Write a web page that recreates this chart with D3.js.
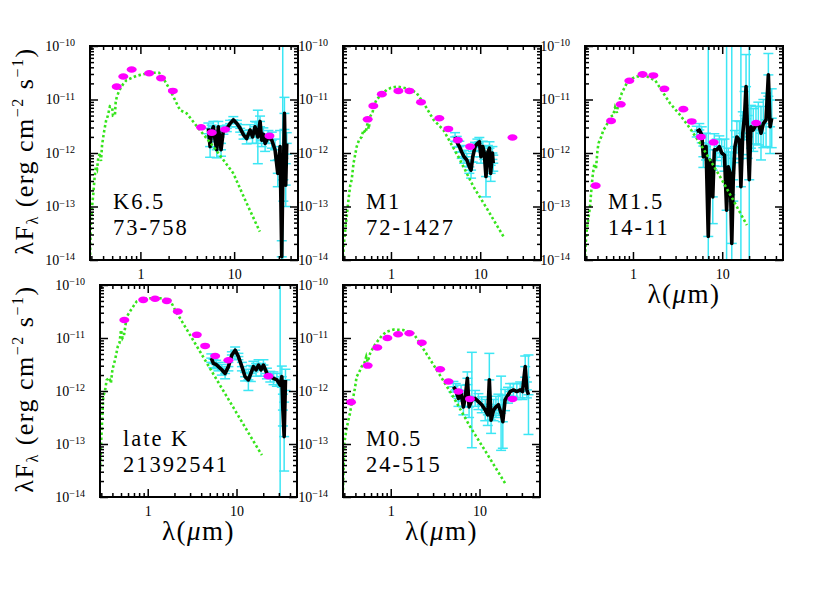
<!DOCTYPE html>
<html lang="en">
<head>
<meta charset="UTF-8">
<title>SED panels</title>
<script src="https://cdnjs.cloudflare.com/ajax/libs/d3/7.8.5/d3.min.js"></script>
<style>
    body { margin: 0; background: #fff; }
    svg text { font-family: "Liberation Serif", "DejaVu Serif", serif; }
</style>
</head>
<body>
<svg id="sed" width="830" height="589"></svg>

<script>
    // panel names: spectral type + source id
    var panelNames = [['K6.5', '73-758'], ['M1', '72-1427'], ['M1.5', '14-11'], ['late K', '21392541'], ['M0.5', '24-515']];

    var xDomain = [0.29, 48];          // wavelength, micron
    var yDomain = [1e-14, 1e-10];      // lambda F_lambda, erg cm-2 s-1
    var xMajor = [1, 10];
    var xTickLabels = ['1', '10'];
    var xMinor = [0.3, 0.4, 0.5, 0.6, 0.7, 0.8, 0.9, 2, 3, 4, 5, 6, 7, 8, 9, 20, 30, 40];
    var yMajor = [1e-14, 1e-13, 1e-12, 1e-11, 1e-10];
    var yExponents = ['\u221214', '\u221213', '\u221212', '\u221211', '\u221210'];
    var yMinor = [];
    yMajor.slice(0, 4).forEach(function (v) {
        for (var m = 2; m <= 9; m++) yMinor.push(v * m);
    });

    // photosphere models: [wavelength um, log10 lambdaF]
    var model1 = [[0.29, -14.0], [0.295, -13.4], [0.305, -13.0], [0.315, -12.75], [0.325, -12.45], [0.335, -12.25], [0.345, -12.3], [0.355, -12.1], [0.37, -12.0], [0.38, -12.15], [0.39, -11.85], [0.41, -11.6], [0.43, -11.4], [0.45, -11.3], [0.473, -11.13], [0.5, -11.15], [0.51, -11.3], [0.535, -11.29], [0.545, -11.05], [0.56, -10.95], [0.6, -10.82], [0.65, -10.72], [0.71, -10.64], [0.8, -10.6], [0.9, -10.56], [1.0, -10.54], [1.28, -10.5], [1.58, -10.5], [1.75, -10.6], [2.07, -10.82], [2.65, -11.2], [3.12, -11.26], [4.3, -11.57], [6.0, -11.88], [9.8, -12.38], [13.6, -12.94], [18.8, -13.47]];
    var model2 = [[0.29, -13.94], [0.3, -13.6], [0.319, -13.19], [0.335, -12.85], [0.35, -12.6], [0.363, -12.5], [0.38, -12.2], [0.395, -12.05], [0.413, -11.88], [0.44, -11.75], [0.47, -11.7], [0.49, -11.57], [0.52, -11.62], [0.545, -11.45], [0.565, -11.55], [0.582, -11.32], [0.62, -11.25], [0.65, -11.1], [0.69, -11.0], [0.79, -10.9], [0.896, -10.82], [1.0, -10.78], [1.15, -10.76], [1.3, -10.77], [1.49, -10.79], [1.7, -10.82], [1.94, -10.88], [2.33, -11.07], [3.0, -11.38], [3.87, -11.57], [5.95, -12.13], [8.4, -12.63], [11.8, -13.03], [18.2, -13.56]];
    var model3 = [[0.29, -13.94], [0.3, -13.5], [0.33, -13.0], [0.345, -12.6], [0.356, -12.38], [0.37, -12.2], [0.385, -12.3], [0.4, -11.95], [0.411, -11.82], [0.44, -11.7], [0.466, -11.57], [0.5, -11.5], [0.53, -11.4], [0.553, -11.32], [0.6, -11.3], [0.63, -11.15], [0.66, -11.25], [0.685, -11.07], [0.75, -10.88], [0.85, -10.7], [1.0, -10.6], [1.1, -10.57], [1.43, -10.57], [1.77, -10.64], [2.19, -10.88], [2.6, -11.07], [3.37, -11.29], [4.36, -11.54], [5.64, -11.82], [9.45, -12.44], [13.3, -12.88], [18.9, -13.35]];
    var model4 = [[0.29, -13.49], [0.303, -12.74], [0.316, -12.1], [0.33, -12.0], [0.345, -11.79], [0.37, -11.75], [0.385, -11.85], [0.4, -11.6], [0.43, -11.4], [0.46, -11.16], [0.48, -11.1], [0.5, -10.85], [0.52, -11.0], [0.54, -10.95], [0.58, -10.6], [0.63, -10.5], [0.75, -10.31], [0.85, -10.27], [0.97, -10.25], [1.38, -10.25], [1.78, -10.28], [2.03, -10.47], [2.6, -10.77], [3.89, -11.26], [6.0, -11.79], [9.2, -12.31], [14.2, -12.84], [19.3, -13.21]];
    var model5 = [[0.29, -13.87], [0.3, -12.99], [0.315, -12.75], [0.333, -12.55], [0.345, -12.45], [0.363, -12.23], [0.38, -12.1], [0.395, -11.95], [0.413, -11.73], [0.44, -11.65], [0.47, -11.54], [0.5, -11.5], [0.53, -11.35], [0.55, -11.45], [0.586, -11.29], [0.65, -11.15], [0.725, -11.04], [0.8, -10.95], [0.9, -10.88], [1.07, -10.84], [1.39, -10.85], [1.8, -10.91], [2.24, -11.16], [3.29, -11.6], [5.06, -12.11], [7.82, -12.67], [12.0, -13.17], [19.4, -13.74]];

    // photometry: [wavelength um, log10 lambdaF]
    var phot1 = [[0.559, -10.76], [0.657, -10.57], [0.807, -10.44], [1.24, -10.51], [1.66, -10.6], [2.22, -10.84], [4.44, -11.52], [5.77, -11.62], [8.0, -11.56], [23.8, -11.68]];
    var phot2 = [[0.548, -11.37], [0.634, -11.12], [0.79, -10.9], [1.21, -10.84], [1.61, -10.84], [2.17, -11.05], [3.48, -11.35], [4.39, -11.55], [5.61, -11.76], [7.7, -11.88], [23.0, -11.71]];
    var phot3 = [[0.382, -12.61], [0.568, -11.4], [0.729, -11.09], [0.91, -10.65], [1.28, -10.53], [1.69, -10.55], [2.25, -10.8], [3.67, -11.18], [4.55, -11.41], [5.78, -11.7], [8.0, -11.8], [24.0, -11.44]];
    var phot4 = [[0.545, -10.66], [0.89, -10.28], [1.21, -10.26], [1.64, -10.3], [2.18, -10.5], [3.57, -10.94], [4.43, -11.15], [5.75, -11.34], [8.1, -11.42], [22.9, -11.72]];
    var phot5 = [[0.357, -12.21], [0.55, -11.52], [0.706, -11.18], [0.917, -11.0], [1.21, -10.93], [1.62, -10.91], [2.24, -11.09], [3.6, -11.59], [4.47, -11.82], [5.79, -12.01], [7.8, -12.15], [23.5, -12.15]];

    // IRS spectra: [wavelength um, log10 lambdaF, error in dex]
    var spec1 = [[5.31, -11.54, 0.1], [5.54, -11.88, 0.2], [5.75, -11.6, 0.12], [6.0, -11.51, 0.1], [6.25, -11.75, 0.15], [6.52, -11.94, 0.15], [6.78, -11.51, 0.1], [7.0, -11.7, 0.12], [7.25, -11.94, 0.12], [7.68, -11.57, 0.08], [8.35, -11.54, 0.06], [9.05, -11.45, 0.06], [9.8, -11.38, 0.06], [10.7, -11.45, 0.06], [11.6, -11.54, 0.07], [12.6, -11.66, 0.08], [13.6, -11.73, 0.1], [14.8, -11.57, 0.1], [15.7, -11.7, 0.12], [16.7, -11.51, 0.1], [17.3, -11.62, 0.2], [17.9, -11.7, 0.5], [18.9, -11.41, 0.1], [19.7, -11.76, 0.12], [20.5, -11.65, 0.12], [21.4, -11.82, 0.15], [23.2, -11.7, 0.12], [25.2, -11.76, 0.15], [27.3, -11.94, 0.2], [29.2, -12.38, 0.25], [30.9, -11.88, 0.3], [32.2, -13.94, 0.3], [33.0, -12.5, 5], [33.5, -12.5, 0.4], [34.4, -11.26, 0.3], [35.5, -12.6, 0.4], [36.4, -11.82, 0.2]];
    var spec2 = [[5.23, -11.7, 0.08], [5.46, -11.79, 0.1], [5.84, -11.88, 0.1], [6.2, -11.98, 0.12], [6.59, -12.07, 0.12], [7.07, -12.13, 0.12], [7.56, -12.26, 0.12], [7.9, -12.32, 0.15], [8.25, -12.07, 0.1], [8.76, -11.88, 0.08], [9.3, -11.82, 0.08], [9.78, -11.79, 0.08], [10.2, -12.07, 0.12], [10.7, -11.88, 0.1], [11.1, -12.0, 0.12], [11.6, -12.44, 0.38], [12.2, -11.98, 0.12], [12.7, -11.91, 0.12], [13.1, -12.38, 0.15], [13.7, -12.0, 0.12], [14.0, -12.19, 0.15]];
    var spec3 = [[5.18, -11.6, 0.1], [5.54, -11.57, 0.12], [5.9, -11.66, 0.15], [6.15, -12.07, 0.2], [6.59, -11.88, 0.25], [6.98, -13.56, 5], [7.3, -12.13, 0.3], [7.84, -12.82, 0.5], [8.16, -11.94, 0.3], [8.68, -11.94, 0.2], [9.29, -11.88, 0.2], [9.87, -12.0, 0.25], [10.6, -12.04, 0.3], [11.2, -13.07, 5], [11.7, -12.26, 0.35], [12.3, -12.38, 0.4], [12.8, -13.69, 5], [13.3, -12.5, 0.4], [13.9, -11.88, 0.3], [14.6, -11.7, 0.3], [15.6, -11.76, 0.35], [16.2, -12.63, 5], [17.0, -11.63, 0.4], [17.8, -11.3, 0.45], [18.5, -10.76, 0.6], [19.3, -11.7, 0.4], [20.1, -12.5, 5], [21.0, -11.51, 0.4], [22.3, -11.57, 0.4], [23.9, -11.48, 0.35], [25.4, -11.45, 0.4], [27.2, -11.63, 0.5], [28.9, -11.45, 0.45], [31.0, -11.38, 0.5], [32.9, -10.54, 0.4], [34.4, -11.51, 0.5], [35.9, -11.35, 0.55]];
    var spec4 = [[5.2, -11.38, 0.08], [5.49, -11.48, 0.08], [5.9, -11.5, 0.08], [6.26, -11.54, 0.08], [6.83, -11.6, 0.1], [7.44, -11.67, 0.1], [8.1, -11.54, 0.08], [8.86, -11.32, 0.06], [9.65, -11.23, 0.06], [10.5, -11.35, 0.06], [11.5, -11.54, 0.08], [12.5, -11.73, 0.08], [13.6, -11.79, 0.2], [14.5, -11.67, 0.15], [15.5, -11.54, 0.1], [16.6, -11.6, 0.12], [17.7, -11.51, 0.1], [18.9, -11.6, 0.12], [20.1, -11.51, 0.1], [22.0, -11.67, 0.1], [24.0, -11.73, 0.1], [26.1, -11.76, 0.12], [28.5, -11.79, 0.12], [31.0, -11.89, 5], [32.4, -11.73, 0.2], [33.3, -12.36, 0.3], [34.4, -12.86, 0.65], [35.6, -11.79, 0.2]];
    var spec5 = [[5.08, -11.92, 0.1], [5.4, -11.98, 0.12], [5.79, -12.14, 0.15], [6.2, -12.04, 0.15], [6.58, -12.3, 0.15], [6.88, -12.14, 0.15], [7.3, -11.76, 0.12], [7.63, -12.3, 0.2], [8.2, -12.17, 0.9], [8.93, -12.14, 0.15], [9.72, -12.2, 0.15], [10.6, -12.26, 0.15], [11.6, -12.36, 0.2], [12.4, -12.45, 0.2], [12.9, -11.79, 0.5], [13.5, -12.55, 0.25], [14.4, -12.36, 0.2], [15.3, -12.3, 0.2], [16.3, -12.26, 0.2], [17.5, -12.42, 0.7], [18.3, -12.58, 0.5], [19.4, -12.17, 0.2], [20.9, -12.08, 0.15], [22.1, -12.01, 0.15], [24.1, -11.98, 0.12], [26.3, -12.01, 0.15], [28.7, -11.98, 0.15], [30.5, -12.01, 0.15], [32.7, -11.54, 0.2], [34.2, -11.98, 0.15], [35.6, -12.07, 0.75]];

    var models = [model1, model2, model3, model4, model5];
    var phots = [phot1, phot2, phot3, phot4, phot5];
    var specs = [spec1, spec2, spec3, spec4, spec5];

    // panel boxes in pixels
    var frames = [
        {x0: 90, x1: 298, y0: 46, y1: 260},
        {x0: 343, x1: 541, y0: 46, y1: 260},
        {x0: 585, x1: 783, y0: 46, y1: 260},
        {x0: 100, x1: 297, y0: 285, y1: 497},
        {x0: 343, x1: 540, y0: 285, y1: 497}
    ];
    var yTitlePanels = [0, 3];
    var xTitlePanels = [2, 3, 4];

    var color = {model: '#36e41c', phot: '#ff00ff', err: '#3ce6f4', spec: '#000'};

    var svg = d3.select('#sed');

    panelNames.forEach(function (name, i) {
        drawPanel(i);
    });

    function drawPanel(i) {
        var f = frames[i];
        var x = d3.scaleLog().domain(xDomain).range([f.x0, f.x1]);
        var y = d3.scaleLog().domain(yDomain).range([f.y1, f.y0]);
        var px = function (d) { return x(d[0]); };
        var py = function (d) { return y(Math.pow(10, d[1])); };

        var g = svg.append('g').attr('class', 'panel');

        g.append('clipPath').attr('id', 'clip' + i)
            .append('rect')
            .attr('x', f.x0).attr('y', f.y0)
            .attr('width', f.x1 - f.x0).attr('height', f.y1 - f.y0);

        var plot = g.append('g').attr('clip-path', 'url(#clip' + i + ')');

        // error bars of the spectrum, with caps and a wavelength bin bar
        var eb = plot.append('g')
            .attr('stroke', color.err)
            .attr('stroke-width', 1.5);
        var bars = eb.selectAll('g.bar')
            .data(specs[i])
            .enter()
            .append('g')
            .attr('class', 'bar');
        bars.append('line')
            .attr('x1', px).attr('x2', px)
            .attr('y1', function (d) { return y(Math.pow(10, d[1] + d[2])); })
            .attr('y2', function (d) { return y(Math.pow(10, d[1] - d[2])); });
        [1, 0, -1].forEach(function (s) {
            bars.append('line')
                .attr('x1', function (d) { return x(d[0]) - 5; })
                .attr('x2', function (d) { return x(d[0]) + 5; })
                .attr('y1', function (d) { return y(Math.pow(10, d[1] + s * d[2])); })
                .attr('y2', function (d) { return y(Math.pow(10, d[1] + s * d[2])); });
        });

        // spectrum
        plot.append('path')
            .datum(specs[i])
            .attr('d', d3.line().x(px).y(py))
            .attr('fill', 'none')
            .attr('stroke', color.spec)
            .attr('stroke-width', 3.6)
            .attr('stroke-linejoin', 'round');

        // model photosphere, dotted
        plot.append('path')
            .datum(models[i])
            .attr('d', d3.line().x(px).y(py))
            .attr('fill', 'none')
            .attr('stroke', color.model)
            .attr('stroke-width', 2.6)
            .attr('stroke-dasharray', '2.5,2.5');

        // photometry
        plot.selectAll('ellipse')
            .data(phots[i])
            .enter()
            .append('ellipse')
            .attr('cx', px)
            .attr('cy', py)
            .attr('rx', 5)
            .attr('ry', 3.3)
            .attr('fill', color.phot);

        // axes, ticks pointing inwards on all sides
        var axes = g.append('g').attr('class', 'axes');
        var bottom = axes.append('g')
            .attr('transform', 'translate(0,' + f.y1 + ')')
            .call(d3.axisBottom(x).tickValues(xMajor).tickSizeInner(-8).tickSizeOuter(0).tickPadding(9)
                .tickFormat(function (d, k) { return xTickLabels[k]; }));
        axes.append('g')
            .attr('transform', 'translate(0,' + f.y1 + ')')
            .call(d3.axisBottom(x).tickValues(xMinor).tickSize(-4).tickFormat(''));
        axes.append('g')
            .attr('transform', 'translate(0,' + f.y0 + ')')
            .call(d3.axisTop(x).tickValues(xMajor).tickSize(-8).tickFormat(''));
        axes.append('g')
            .attr('transform', 'translate(0,' + f.y0 + ')')
            .call(d3.axisTop(x).tickValues(xMinor).tickSize(-4).tickFormat(''));

        var left = axes.append('g')
            .attr('transform', 'translate(' + f.x0 + ',0)')
            .call(d3.axisLeft(y).tickValues(yMajor).tickSizeInner(-8).tickSizeOuter(0).tickPadding(15));
        axes.append('g')
            .attr('transform', 'translate(' + f.x0 + ',0)')
            .call(d3.axisLeft(y).tickValues(yMinor).tickSize(-4).tickFormat(''));
        axes.append('g')
            .attr('transform', 'translate(' + f.x1 + ',0)')
            .call(d3.axisRight(y).tickValues(yMajor).tickSize(-8).tickFormat(''));
        axes.append('g')
            .attr('transform', 'translate(' + f.x1 + ',0)')
            .call(d3.axisRight(y).tickValues(yMinor).tickSize(-4).tickFormat(''));

        axes.selectAll('.domain').remove();
        axes.selectAll('.tick line').attr('stroke-width', 1.5);
        axes.selectAll('g').attr('font-family', null).attr('font-size', null);

        bottom.selectAll('.tick text').attr('font-size', '14px');

        left.selectAll('.tick text').each(function (d, k) {
            var t = d3.select(this).text(null).attr('font-size', '14px');
            t.append('tspan').text('10');
            t.append('tspan').attr('dy', '-0.45em').attr('font-size', '10px').text(yExponents[k]);
        });

        g.append('rect')
            .attr('x', f.x0).attr('y', f.y0)
            .attr('width', f.x1 - f.x0).attr('height', f.y1 - f.y0)
            .attr('fill', 'none')
            .attr('stroke', '#000')
            .attr('stroke-width', 2);

        // star label
        g.selectAll('text.name')
            .data(panelNames[i])
            .enter()
            .append('text')
            .attr('class', 'name')
            .attr('x', f.x0 + 23)
            .attr('y', function (d, k) { return f.y1 - 51 + k * 26; })
            .attr('font-size', '22.5px')
            .attr('letter-spacing', '2px')
            .text(function (d) { return d; });

        if (yTitlePanels.indexOf(i) >= 0) {
            var yt = g.append('text')
                .attr('transform', 'translate(33,' + ((f.y0 + f.y1) / 2 - 2) + ') rotate(-90)')
                .attr('text-anchor', 'middle')
                .attr('font-size', '26px')
                .attr('letter-spacing', '1.5px');
            yt.append('tspan').text('\u03bbF');
            yt.append('tspan').attr('font-size', '16px').attr('dy', '5').text('\u03bb');
            yt.append('tspan').attr('dy', '-5').text(' (erg cm');
            yt.append('tspan').attr('font-size', '16px').attr('dy', '-10').text('\u22122');
            yt.append('tspan').attr('dy', '10').text(' s');
            yt.append('tspan').attr('font-size', '16px').attr('dy', '-10').text('\u22121');
            yt.append('tspan').attr('dy', '10').text(')');
        }

        if (xTitlePanels.indexOf(i) >= 0) {
            var xt = g.append('text')
                .attr('x', (f.x0 + f.x1) / 2)
                .attr('y', f.y1 + 43)
                .attr('text-anchor', 'middle')
                .attr('font-size', '27px')
                .attr('letter-spacing', '1.5px');
            xt.append('tspan').text('\u03bb(');
            xt.append('tspan').attr('font-style', 'italic').text('\u03bc');
            xt.append('tspan').text('m)');
        }
    }
</script>
</body>
</html>
